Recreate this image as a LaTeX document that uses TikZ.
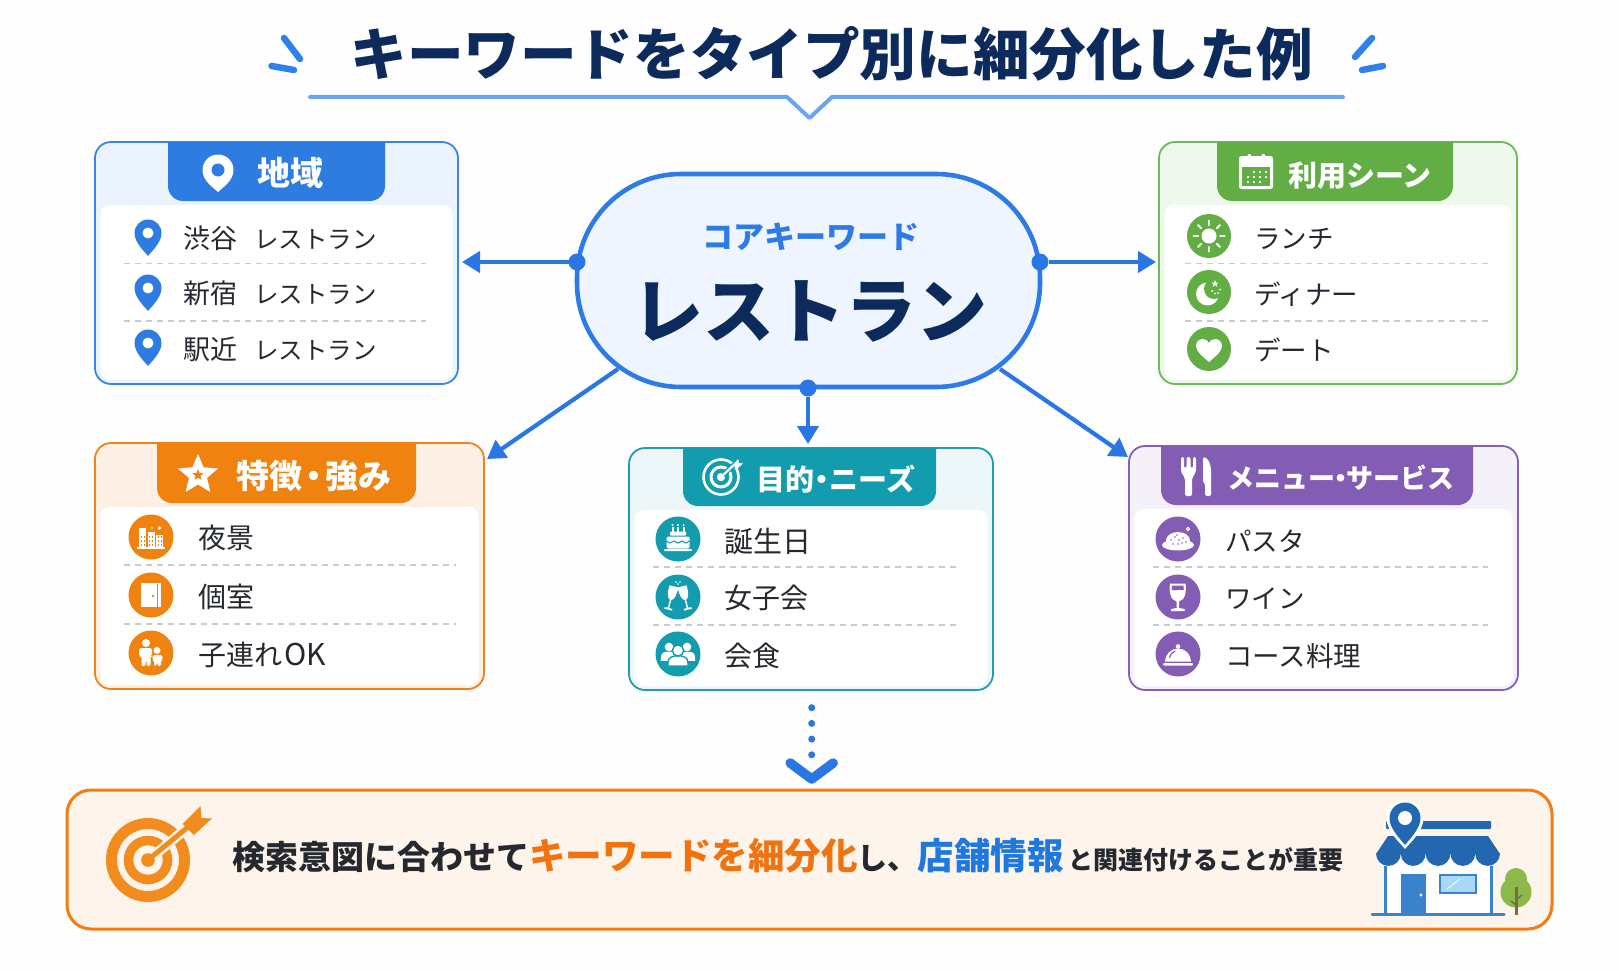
\documentclass[tikz,border=0pt]{standalone}
\usepackage{fontspec}
\usetikzlibrary{arrows.meta,calc}
\setmainfont{Noto Sans CJK JP}

\definecolor{navy}{HTML}{0C2A5C}
\definecolor{ink}{HTML}{25292F}
\definecolor{flow}{HTML}{2A76E2}
\definecolor{coreline}{HTML}{2F7BE6}
\definecolor{coretint}{HTML}{EEF5FE}
\definecolor{pagebg}{HTML}{FEFEFE}
\definecolor{rule}{HTML}{6AA5F5}
\definecolor{spark}{HTML}{2F80EA}
\definecolor{dashgray}{HTML}{C9CBCE}

\definecolor{blueline}{HTML}{3A86E6}
\definecolor{bluehead}{HTML}{2F7CE0}
\definecolor{bluetint}{HTML}{EBF4FE}
\definecolor{greenline}{HTML}{6CBB54}
\definecolor{greenhead}{HTML}{62AE45}
\definecolor{greentint}{HTML}{EFF8EC}
\definecolor{orangeline}{HTML}{F08318}
\definecolor{orangehead}{HTML}{F0820F}
\definecolor{orangetint}{HTML}{FDF1E5}
\definecolor{tealline}{HTML}{1E9EB0}
\definecolor{tealhead}{HTML}{129CAE}
\definecolor{tealtint}{HTML}{EDF7FA}
\definecolor{purpleline}{HTML}{8560BA}
\definecolor{purplehead}{HTML}{835DB3}
\definecolor{purpletint}{HTML}{F5F1FA}
\definecolor{banneredge}{HTML}{F57C10}
\definecolor{bannerfill}{HTML}{FDF4EB}
\definecolor{targetorange}{HTML}{F28C1E}
\definecolor{hot}{HTML}{F0730F}
\definecolor{cool}{HTML}{1E78E0}
\definecolor{shopdark}{HTML}{2367B0}
\definecolor{shopmid}{HTML}{3B82CC}
\definecolor{shopglass}{HTML}{A8D8F5}
\definecolor{leaf}{HTML}{8DB84A}
\definecolor{trunk}{HTML}{7A6A50}

\tikzset{
  sized/.style={font=\fontsize{#1}{#1}\selectfont,text height={#1*.82pt},text depth={#1*.06pt}},
  bsized/.style={font=\fontsize{#1}{#1}\bfseries\selectfont,text height={#1*.82pt},text depth={#1*.06pt}},
  cardbox/.style={rectangle,rounded corners=16pt,line width=1.8pt,inner sep=0pt,outer sep=0pt},
  corebox/.style={rectangle,rounded corners=104pt,draw=coreline,fill=coretint,line width=4.6pt,
    minimum width=463pt,minimum height=213pt,inner sep=0pt},
  bannerbox/.style={rectangle,rounded corners=24pt,draw=banneredge,fill=bannerfill,line width=3pt,
    minimum width=1485pt,minimum height=139pt,inner sep=0pt},
  flowdot/.style={circle,fill=flow,minimum size=17pt,inner sep=0pt,outer sep=0pt},
  flowline/.style={draw=flow,line width=4.2pt,-{Triangle[length=18pt,width=21pt]}},
  divider/.style={draw=dashgray,line width=1.2pt,dash pattern=on 6pt off 5pt},
  itemtext/.style={anchor=west,inner sep=0pt,text=ink,sized=26.5},
  headtext/.style={anchor=center,inner sep=0pt,text=white},
  sparkline/.style={draw=spark,line width=6.5pt,line cap=round},
}

% Map pin: centre of the head at the origin of the scope, tip below it
\newcommand{\mappin}[7]{%
  \begin{scope}[shift={(#1,#2)}]
    \fill[#6] (0,#4) .. controls (-.3*#3,{#4-.32*(#4-#3)-.15*#3}) and (-#3,.7*#3) .. (-#3,0)
      arc[start angle=180,end angle=360,radius=#3]
      .. controls (#3,.7*#3) and (.3*#3,{#4-.32*(#4-#3)-.15*#3}) .. (0,#4) -- cycle;
    \fill[#7] (0,0) circle (#5);
  \end{scope}}

% One category card: tinted frame, white panel and coloured title tab
\newcommand{\card}[9]{%
  \node[cardbox,draw=#6line,fill=#6tint,minimum width={(#4-#2)*1pt},minimum height={(#5-#3)*1pt}]
    (#1) at ({(#2+#4)/2},{(#3+#5)/2}) {};
  \fill[white,rounded corners=9pt] ({#2+5.5},{#9+4}) rectangle ({#4-5.5},{#5-4});
  \fill[#6head] (#7,#3) [rounded corners=15pt] -- (#7,#9) -- (#8,#9) [sharp corners] -- (#8,#3) -- cycle;
}

% Small person: head and rounded shoulders, used by the group icon
\newcommand{\person}[4]{%
  \fill[#4] (#1,#2) circle ({#3});
  \fill[#4] ({#1-1.9*#3},{#2+3.2*#3}) -- ({#1-1.9*#3},{#2+2.6*#3})
    .. controls ({#1-1.9*#3},{#2+1.2*#3}) and ({#1-1.1*#3},{#2+1.1*#3}) .. (#1,{#2+1.1*#3})
    .. controls ({#1+1.1*#3},{#2+1.1*#3}) and ({#1+1.9*#3},{#2+1.2*#3}) .. ({#1+1.9*#3},{#2+2.6*#3})
    -- ({#1+1.9*#3},{#2+3.2*#3}) -- cycle;
}

% Champagne flute, stem pointing down
\newcommand{\flute}{%
  \fill[white] (-4.5,-12) -- (4.5,-12) .. controls (5,-4) and (3.5,1) .. (0.7,2) -- (0.7,10)
    -- (4,10.5) -- (4,12) -- (-4,12) -- (-4,10.5) -- (-0.7,10) -- (-0.7,2)
    .. controls (-3.5,1) and (-5,-4) .. (-4.5,-12) -- cycle;
}

\begin{document}
\begin{tikzpicture}[x=1pt,y=1pt,yscale=-1]
\useasboundingbox (0,0) rectangle (1619,971);
\fill[pagebg] (0,0) rectangle (1619,971);

% Title with accent strokes and notched rule
\node[inner sep=0pt,text=navy,font=\fontsize{56.6}{60}\bfseries\selectfont] (title) at (831.5,54) {キーワードをタイプ別に細分化した例};
\draw[sparkline] (284,38) -- (300,59);
\draw[sparkline] (271.5,66) -- (294,70);
\draw[sparkline] (1372,38) -- (1355,57);
\draw[sparkline] (1383,66) -- (1362,70);
\draw[rule,line width=4pt,line cap=round,line join=round] (310,97) -- (787,97) -- (809.5,118) -- (832,97) -- (1343,97);

% Cards
\card{cardArea}{95}{142}{458}{384}{blue}{168}{385}{201}
\card{cardScene}{1159}{142}{1517}{384}{green}{1217}{1453}{201}
\card{cardFeature}{95}{443}{484}{689}{orange}{157}{416}{503}
\card{cardPurpose}{629}{448}{993}{690}{teal}{683}{936}{506}
\card{cardMenu}{1129}{446}{1518}{690}{purple}{1161}{1473}{505}

% Core keyword and the connectors leaving it
\coordinate (tipSW) at (487,459);
\coordinate (tipSE) at (1128,457);
\coordinate (startSW) at (618,369);
\coordinate (startSE) at (1000,369);
\draw[flowline] (startSW) -- (tipSW);
\draw[flowline] (startSE) -- (tipSE);
\node[corebox] (core) at (808.5,280.5) {};
\node[inner sep=0pt,text=coreline,font=\fontsize{31}{34}\bfseries\selectfont] (coreLabel) at (811,237) {コアキーワード};
\node[inner sep=0pt,text=navy,font=\fontsize{71}{76}\bfseries\selectfont] (coreWord) at (810,311) {レストラン};
\node[flowdot] (dotL) at (577,262) {};
\node[flowdot] (dotR) at (1040,262) {};
\node[flowdot] (dotB) at (808,388) {};
\draw[flowline,shorten >=4pt] (dotL) -- (cardArea.east |- dotL);
\draw[flowline,shorten >=3pt] (dotR) -- (cardScene.west |- dotR);
\draw[flowline,shorten >=4pt] (dotB) -- (cardPurpose.north -| dotB);

% Area card
\mappin{218}{170}{15.5}{22}{6.5}{white}{bluehead}
\node[headtext,bsized=33] (hArea) at (290,173) {地域};
\mappin{148}{233}{13.5}{23}{5.5}{bluehead}{white}
\mappin{148}{288}{13.5}{23}{5.5}{bluehead}{white}
\mappin{148}{343}{13.5}{23}{5.5}{bluehead}{white}
\node[itemtext,sized=27] (a1) at (183,238) {渋谷\hspace{17pt}{\fontsize{24.5}{27}\selectfont レストラン}};
\node[itemtext,sized=27] (a2) at (183,293) {新宿\hspace{17pt}{\fontsize{24.5}{27}\selectfont レストラン}};
\node[itemtext,sized=27] (a3) at (183,349) {駅近\hspace{17pt}{\fontsize{24.5}{27}\selectfont レストラン}};
\draw[divider] (124,263.5) -- (426,263.5);
\draw[divider] (124,321) -- (426,321);

% Scene card
\fill[white,rounded corners=2.5pt] (1239,156) rectangle (1273,189);
\fill[white,rounded corners=1pt] (1247.5,154) rectangle (1251,161);
\fill[white,rounded corners=1pt] (1261.5,154) rectangle (1265,161);
\fill[greenhead] (1242,167) rectangle (1270,186);
\foreach \cx/\cy in {1254/172,1260/172,1266/172,1248/177,1254/177,1260/177,1266/177,1248/182,1254/182,1260/182}
  \fill[white] (\cx-1.3,\cy-1.1) rectangle (\cx+1.3,\cy+1.1);
\node[headtext,bsized=29] (hScene) at (1360,175) {利用シーン};
\foreach \cy in {236,292,349} \fill[greenhead] (1209,\cy) circle (22);
\begin{scope}[shift={(1209,236)}]
  \fill[white] (0,0) circle (7.5);
  \foreach \a in {0,45,...,315} \draw[white,line width=2pt,line cap=round] (\a:11) -- (\a:15.5);
\end{scope}
\begin{scope}[shift={(1209,292)}]
  \fill[white] (-1.5,2) circle (11.5);
  \fill[greenhead] (5,-3) circle (10);
  \fill[white] (6,-12) -- (7,-9.5) -- (9.5,-9.5) -- (7.5,-7.8) -- (8.4,-5.2) -- (6,-6.8) -- (3.6,-5.2) -- (4.5,-7.8) -- (2.5,-9.5) -- (5,-9.5) -- cycle;
  \foreach \dx/\dy in {3/-1,6/1.5,9/1,11/-2.5} \fill[white] (\dx,\dy) circle (1);
\end{scope}
\begin{scope}[shift={(1209,349)}]
  \fill[white] (0,13) .. controls (-8,6) and (-13,2) .. (-13,-3) .. controls (-13,-8) and (-9,-10) .. (-6,-10)
    .. controls (-3,-10) and (-1,-8) .. (0,-6) .. controls (1,-8) and (3,-10) .. (6,-10)
    .. controls (9,-10) and (13,-8) .. (13,-3) .. controls (13,2) and (8,6) .. (0,13) -- cycle;
\end{scope}
\node[itemtext] (s1) at (1254,238) {ランチ};
\node[itemtext] (s2) at (1254,294) {ディナー};
\node[itemtext] (s3) at (1254,350) {デート};
\draw[divider] (1185,263.5) -- (1488,263.5);
\draw[divider] (1185,321) -- (1488,321);

% Feature card
\begin{scope}[shift={(198,475)}]
  \fill[white,line join=round] (270:21) -- (306:9.5) -- (342:21) -- (18:9.5) -- (54:21) -- (90:9.5) -- (126:21) -- (162:9.5) -- (198:21) -- (234:9.5) -- cycle;
  \fill[orangehead] (270:6) -- (306:2.6) -- (342:6) -- (18:2.6) -- (54:6) -- (90:2.6) -- (126:6) -- (162:2.6) -- (198:6) -- (234:2.6) -- cycle;
\end{scope}
\node[headtext,bsized=33] (hFeature) at (314,476) {特徴\hspace{-5pt}・\hspace{-5pt}強み};
\foreach \cy in {537,595,653} \fill[orangehead] (151,\cy) circle (22.5);
\begin{scope}[shift={(151,537)}]
  \fill[white] (-14,10) rectangle (14,12);
  \fill[white] (-12,-9) rectangle (-5,10.5);
  \fill[white] (-3.5,-5.5) rectangle (3.5,10.5);
  \fill[white] (5,-2.5) rectangle (12,10.5);
  \foreach \wx in {-10.5,-7.5,-2,1,6.5,9.5} \foreach \wy in {-1,3,7}
    \fill[orangehead] (\wx,\wy) rectangle ++(1.4,2);
  \fill[white] (8.5,-9) circle (1.8);
  \fill[white] (1,-9) circle (.8);
\end{scope}
\begin{scope}[shift={(151,595)}]
  \fill[white] (-10,-12) rectangle (5.5,12);
  \fill[white] (7,-12) rectangle (9.5,12);
  \fill[white] (-10,-12) rectangle (9.5,-11);
  \fill[orangehead] (2,1) circle (1.3);
\end{scope}
\begin{scope}[shift={(151,653)}]
  \fill[white] (-5,-10) circle (4);
  \fill[white,rounded corners=1.5pt] (-12,-5) -- (1,-5) -- (1,3) -- (-0.5,3) -- (-0.5,13) -- (-4.5,13) -- (-4.5,7) -- (-5.5,7) -- (-5.5,13) -- (-9.5,13) -- (-9.5,3) -- (-12,3) -- cycle;
  \fill[white] (6,-2.5) circle (3.5);
  \fill[white,rounded corners=1.5pt] (1.5,2) -- (11.5,2) -- (11.5,7) -- (10,7) -- (10,13) -- (6.5,13) -- (6.5,9) -- (5.5,9) -- (5.5,13) -- (3,13) -- (3,7) -- (1.5,7) -- cycle;
\end{scope}
\node[itemtext,sized=28] (f1) at (198,538) {夜景};
\node[itemtext,sized=28] (f2) at (198,597) {個室};
\node[itemtext,sized=28] (f3) at (198,655) {子連れ\hspace{2pt}{\fontsize{30}{30}\selectfont OK}};
\draw[divider] (124,565) -- (456,565);
\draw[divider] (124,624) -- (456,624);

% Purpose card
\begin{scope}[shift={(721,477)}]
  \draw[white,line width=2.6pt] (0,0) circle (17.5);
  \draw[white,line width=3pt] (0,0) circle (10);
  \fill[white] (0,0) circle (4.2);
  \draw[tealhead,line width=5pt] (2,-2) -- (15,-14);
  \draw[white,line width=2.2pt] (0,0) -- (15,-14);
  \fill[white] (12,-12) -- (17,-18) -- (18,-14) -- (22,-13.5) -- (16,-8) -- cycle;
\end{scope}
\node[headtext,bsized=29] (hPurpose) at (836,479) {目的\hspace{-7pt}・\hspace{-7pt}ニーズ};
\foreach \cy in {539,597,654} \fill[tealhead] (678,\cy) circle (22.5);
\begin{scope}[shift={(678,539)}]
  \fill[white,rounded corners=1pt] (-14,10) rectangle (14,12.2);
  \fill[white,rounded corners=1.5pt] (-11.5,-2.5) rectangle (11.5,9.5);
  \fill[white,rounded corners=1pt] (-8,-7.5) rectangle (8,-3.3);
  \foreach \kx in {-5.5,0,5.5} {
    \draw[white,line width=2pt] (\kx,-12) -- (\kx,-7);
    \fill[white] (\kx,-14) circle (1.2);
  }
  \draw[tealhead,line width=1.1pt] plot[smooth] coordinates {(-11.5,2) (-8,4) (-4,2) (0,4) (4,2) (8,4) (11.5,2)};
\end{scope}
\begin{scope}[shift={(678,597)}]
  \begin{scope}[shift={(-7,1)},rotate=14]\flute\end{scope}
  \begin{scope}[shift={(7,1)},rotate=-14]\flute\end{scope}
  \foreach \dx/\dy in {-2/-15,0/-13,2/-15} \fill[white] (\dx,\dy) circle (.8);
\end{scope}
\begin{scope}[shift={(678,654)}]
  \person{-9}{-7}{4.3}{white}
  \person{9}{-7}{4.3}{white}
  \draw[tealhead,fill=white,line width=1.4pt] (-10,12) -- (-10,9) .. controls (-10,3) and (-5,1.8) .. (0,1.8) .. controls (5,1.8) and (10,3) .. (10,9) -- (10,12) -- cycle;
  \draw[tealhead,fill=white,line width=1.4pt] (0,-3.5) circle (5.6);
\end{scope}
\node[itemtext,sized=29] (p1) at (724,541) {誕生日};
\node[itemtext,sized=28] (p2) at (724,598) {女子会};
\node[itemtext,sized=28] (p3) at (724,656) {会食};
\draw[divider] (653,567) -- (961,567);
\draw[divider] (653,625) -- (961,625);

% Menu card
\fill[white,rounded corners=2pt] (1181,457) -- (1184,457) -- (1184,468) -- (1186.5,468) -- (1186.5,457) -- (1190.5,457) -- (1190.5,468) -- (1193,468) -- (1193,457) -- (1196,457) -- (1196,472) -- (1192,478) -- (1192,496) -- (1185,496) -- (1185,478) -- (1181,472) -- cycle;
\fill[white,rounded corners=1.5pt] (1203,457) .. controls (1208,458) and (1211,464) .. (1211,472) -- (1211,496) -- (1205,496) -- (1205,483) -- (1203,483) -- cycle;
\node[headtext,bsized=27] (hMenu) at (1341,478) {メニュー\hspace{-8pt}・\hspace{-8pt}サービス};
\foreach \cy in {539,597,654} \fill[purplehead] (1178,\cy) circle (22.5);
\begin{scope}[shift={(1178,539)}]
  \fill[white] (0,6) ellipse (16 and 5.5);
  \fill[white] (0,1.5) ellipse (12 and 8.5);
  \foreach \dx/\dy in {-7/1,-3/-2,1/1,5/-1,8/3,-5/5,0/5,4/4,-1/-4} \fill[purplehead] (\dx,\dy) circle (.8);
  \draw[white,line width=1pt] (10,-10) circle (1.6);
\end{scope}
\begin{scope}[shift={(1178,597)}]
  \fill[white] (-8,-13.5) -- (7.5,-13.5) .. controls (8.5,-6) and (7.5,3) .. (1,4.5) -- (1,11) -- (6.5,12) -- (6.5,14) -- (-7,14) -- (-7,12) -- (-1.5,11) -- (-1.5,4.5) .. controls (-8,3) and (-9,-6) .. (-8,-13.5) -- cycle;
  \fill[purplehead] (-6,-11.5) -- (5.5,-11.5) -- (5.8,-7) .. controls (2,-8) and (-2,-6) .. (-6.3,-7) -- cycle;
\end{scope}
\begin{scope}[shift={(1178,654)}]
  \fill[white,rounded corners=1pt] (-15,9) rectangle (15,11.5);
  \fill[white] (-13,7.5) arc[start angle=180,end angle=360,radius=13] -- cycle;
  \fill[white] (0,-7.5) circle (2.3);
  \draw[purplehead,line width=1.2pt,line cap=round] (-8.5,3.5) .. controls (-7.5,0) and (-5.5,-2) .. (-3,-3);
\end{scope}
\node[itemtext] (m1) at (1225,541) {パスタ};
\node[itemtext] (m2) at (1225,598) {ワイン};
\node[itemtext,sized=27.5] (m3) at (1225,656) {コース料理};
\draw[divider] (1153,567) -- (1488,567);
\draw[divider] (1153,625) -- (1488,625);

% Closing banner and the dotted pointer towards it
\node[bannerbox] (banner) at (809.5,859.5) {};
\coordinate (chevron) at (811.7,780);
\draw[flow,line width=7pt,line cap=round,dash pattern=on 0pt off 15.7pt] (811.7,707.7) -- (811.7,757);
\draw[flow,line width=9.5pt,line cap=round,line join=round] ($(chevron)+(-21.5,-17)$) -- ($(chevron)+(0,-1)$) -- ($(chevron)+(21.5,-17)$);

% Target icon
\begin{scope}[shift={(148,860)}]
  \draw[targetorange,line width=11pt] (0,0) circle (36.5);
  \draw[targetorange,line width=9.5pt] (0,0) circle (19.5);
  \draw[bannerfill,line width=10pt] (10,-8) -- (52,-43);
  \draw[targetorange,line width=5pt] (0,0) -- (40,-33);
  \fill[targetorange] (0,0) circle (6.8);
  \fill[targetorange] (34.5,-36) -- (52.5,-54) -- (53.5,-42) -- (64,-41.5) -- (46,-25) -- cycle;
\end{scope}

% Message line
\node[anchor=west,inner sep=0pt,text=ink,bsized=33] (message) at (232,857)
  {検索意図に合わせて{\fontsize{36.5}{38}\selectfont\color{hot}キーワードを細分化}{\fontsize{30}{32}\selectfont し、}{\fontsize{36.5}{38}\selectfont\color{cool}店舗情報}\hspace{5pt}{\fontsize{25}{28}\selectfont と関連付けることが重要}};

% Shop with pin and tree
\fill[white] (1385,862) rectangle (1491,914);
\draw[shopmid,line width=3pt] (1385,866) -- (1385,914);
\draw[shopmid,line width=3pt] (1491,866) -- (1491,914);
\draw[shopmid,line width=3pt,line cap=round] (1372,914.7) -- (1504,914.7);
\fill[shopmid] (1401,874) rectangle (1426,914);
\fill[white] (1421,895) circle (1.7);
\draw[shopmid,line width=2pt,fill=shopglass] (1440,875) rectangle (1476,893);
\draw[white,line width=.8pt] (1447,889) -- (1460,879);
\fill[shopdark,rounded corners=1pt] (1386,821) rectangle (1491,829);
\fill[shopdark] (1388,836) -- (1488,836) -- (1500,854) -- (1376,854) -- cycle;
\foreach \sx in {1388.4,1413.2,1438,1462.8,1487.6}
  \fill[shopdark] (\sx-12.4,853.5) arc[start angle=180,end angle=0,radius=12.4] -- cycle;
\mappin{1405}{818}{18.5}{31}{9}{white}{white}
\mappin{1405}{818}{15.5}{27}{7}{shopdark}{white}
\fill[leaf] (1516,879) circle (11);
\fill[leaf] (1516,892) circle (15.5);
\draw[trunk,line width=3pt] (1516,887) -- (1516,915);
\draw[trunk,line width=1.5pt] (1516,900) -- (1522,895);
\draw[trunk,line width=1.5pt] (1516,905) -- (1511,901);
\end{tikzpicture}
\end{document}
